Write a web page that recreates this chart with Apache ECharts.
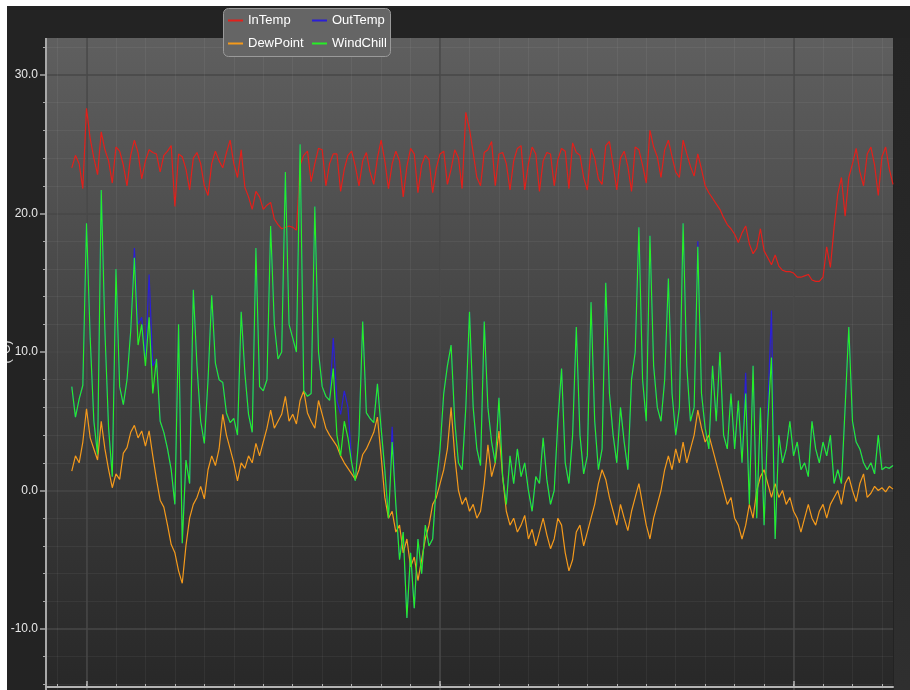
<!DOCTYPE html>
<html>
<head>
<meta charset="utf-8">
<script src="https://cdn.jsdelivr.net/npm/echarts@6/dist/echarts.min.js"></script>
<style>
  html, body { margin: 0; padding: 0; background: #ffffff; }
  #chart { position: absolute; left: 7px; top: 6px; width: 903px; height: 684px; }
</style>
</head>
<body>
<div id="chart"></div>
<script>
// Station readings, one every 3 hours; the record begins a few samples after the axis start.
const sampleCount = 231;
const leadingSamples = 7;

const inTemp = [
  23.3, 24.2, 23.6, 21.8, 27.6, 25.4, 24.0, 22.8, 25.9, 24.6,
  23.8, 22.2, 24.8, 24.5, 23.5, 22.0, 24.2, 25.3, 24.4, 22.5,
  23.8, 24.6, 24.4, 24.3, 23.0, 24.2, 24.5, 24.9, 20.5, 24.3,
  24.1, 23.2, 21.7, 24.0, 24.4, 23.6, 22.0, 21.3, 23.6, 24.5,
  23.8, 23.3, 24.4, 25.3, 23.6, 22.6, 24.6, 21.9, 21.2, 20.3,
  21.6, 21.2, 20.3, 20.6, 20.8, 19.6, 19.2, 18.9, 19.0, 19.1,
  19.0, 18.8, 23.5, 24.2, 24.5, 22.3, 23.6, 24.7, 24.6, 22.0,
  23.6, 24.3, 24.3, 21.6, 23.2, 24.2, 24.5, 23.4, 22.0, 23.8,
  24.4, 23.0, 22.1, 24.0, 25.3, 23.8, 21.8, 23.6, 24.5, 23.8,
  21.2, 23.4, 24.7, 24.3, 21.5, 23.5, 24.2, 23.9, 21.5, 23.3,
  24.3, 24.5, 22.1, 23.2, 24.6, 24.0, 21.8, 27.3, 26.1, 24.4,
  22.6, 22.0, 24.4, 24.6, 25.2, 22.0, 24.3, 24.4, 23.6, 21.7,
  23.8, 24.7, 24.9, 21.7, 23.6, 24.8, 24.3, 21.6, 23.8, 24.4,
  24.3, 22.0, 23.9, 24.7, 24.5, 21.8, 25.1, 24.4, 24.2, 22.6,
  21.7, 24.7, 24.0, 22.5, 22.1, 24.9, 25.2, 23.5, 21.7, 24.0,
  24.5, 23.4, 21.6, 24.8, 24.6, 23.5, 22.2, 26.0, 24.8, 24.1,
  22.6, 24.6, 25.3, 24.1, 23.0, 22.6, 25.3, 24.3, 23.4, 22.7,
  24.3, 23.2, 22.0, 21.5, 21.1, 20.7, 20.3, 19.7, 19.2, 18.9,
  18.5, 17.9, 18.6, 19.1, 17.8, 17.1, 17.5, 18.9, 17.3, 16.8,
  16.3, 17.0, 16.2, 15.9, 15.8, 15.8, 15.7, 15.4, 15.4, 15.5,
  15.6, 15.2, 15.1, 15.1, 15.4, 17.6, 16.1, 19.0, 21.4, 22.6,
  19.8, 22.6, 23.6, 24.7, 23.0, 22.0, 24.3, 24.8, 23.5, 21.3,
  24.1, 24.8, 23.2, 22.1
];

const outTemp = [
  7.5, 5.3, 6.6, 7.6, 19.3, 11.0, 5.0, 2.6, 21.7, 11.5,
  4.5, 1.0, 16.0, 7.5, 6.2, 8.0, 11.5, 17.5, 12.0, 12.5,
  9.5, 15.6, 9.0, 9.5, 5.0, 4.2, 3.0, 1.5, -1.0, 12.0,
  -3.8, 2.2, 0.5, 14.5, 9.0, 5.0, 3.4, 8.0, 14.1, 9.2,
  8.0, 7.8, 5.6, 4.9, 5.2, 4.0, 12.9, 8.5, 5.5, 4.2,
  17.5, 7.5, 7.2, 8.0, 19.1, 12.0, 9.5, 10.0, 23.0, 12.0,
  11.0, 10.0, 25.0, 7.2, 6.8, 7.0, 20.5, 10.0, 7.5, 6.8,
  6.5, 11.0, 6.5, 5.5, 7.2, 6.0, 2.0, 0.7, 4.0, 12.2,
  5.6, 5.2, 4.9, 7.7, 4.5, 1.5, -2.0, 4.6, -1.0, -5.0,
  -3.0, -9.2, -4.5, -8.5, -3.5, -6.0, -2.5, -4.0, -3.5, 0.5,
  3.0, 7.0, 9.0, 10.5, 5.0, 2.0, 1.5, 6.0, 12.9, 6.0,
  3.0, 1.8, 12.2, 6.0, 3.5, 2.0, 6.7, 1.0, -1.0, 2.5,
  0.5, 3.0, 1.0, 2.0, 0.0, -1.5, 1.0, 0.5, 3.8, 0.8,
  -1.0, 0.0, 5.0, 8.8, 2.0, 0.5, 4.0, 11.8, 4.0, 1.2,
  2.5, 13.6, 5.0, 1.5, 3.0, 15.0, 7.0, 4.0, 2.0, 6.0,
  3.5, 1.5, 8.0, 10.0, 19.0, 8.0, 5.0, 18.4, 9.0, 6.0,
  5.0, 8.0, 15.3, 7.0, 4.0, 6.0, 19.3, 9.0, 5.0, 6.0,
  18.0, 7.0, 4.5, 3.0, 9.0, 5.0, 10.0, 4.0, 3.0, 7.0,
  3.0, 6.5, 2.0, 8.5, -1.0, 9.0, -2.0, 6.0, -2.5, 6.0,
  13.0, -3.5, 4.0, 2.0, 3.0, 5.0, 2.5, 3.5, 1.5, 2.0,
  1.0, 5.0, 3.0, 2.0, 3.5, 2.5, 4.0, 0.5, 1.5, 0.5,
  6.0, 11.8, 5.0, 3.5, 3.0, 2.0, 1.5, 2.0, 1.2, 4.0,
  1.5, 1.7, 1.6, 1.8
];

const dewPoint = [
  1.4, 2.5, 2.0, 3.5, 5.9, 3.8, 3.0, 2.2, 5.0, 3.0,
  1.5, 0.2, 1.2, 0.8, 2.7, 3.1, 4.2, 4.7, 3.8, 4.3,
  3.2, 4.3, 2.5, 0.8, -0.7, -1.2, -2.5, -3.9, -4.5, -5.8,
  -6.7, -4.0, -2.0, -1.0, -0.5, 0.3, -0.6, 1.5, 2.5, 1.8,
  3.0, 5.5, 4.0, 3.0, 2.0, 0.7, 2.0, 1.6, 2.5, 2.0,
  3.4, 2.5, 3.5, 4.5, 5.8, 4.5, 5.0, 5.5, 6.8, 5.0,
  5.5, 4.8, 6.5, 7.2, 5.6, 5.0, 4.5, 6.5, 5.5, 4.5,
  4.0, 3.6, 3.2, 2.5, 2.0, 1.6, 1.2, 0.8, 1.5, 2.6,
  3.0, 3.6, 4.2, 5.3, 2.5, -0.5, -2.0, -1.5, -3.0, -2.5,
  -4.5, -3.5, -5.5, -4.8, -6.5, -5.0, -3.5, -2.5, -1.0, -0.5,
  0.5, 1.5, 3.0, 6.0, 2.5, 0.0, -1.0, -0.5, -1.5, -1.0,
  -2.0, -1.5, 0.5, 3.3, 1.0, 2.0, 4.3, 1.0, -1.5, -2.5,
  -2.0, -3.0, -2.5, -1.8, -3.5, -2.8, -4.0, -3.0, -2.0, -3.2,
  -4.2, -3.5, -2.0, -2.5, -4.5, -5.8, -5.0, -3.0, -2.5, -4.0,
  -3.0, -2.0, -1.0, 0.5, 1.5, 0.8, -0.5, -1.5, -2.5, -1.0,
  -2.0, -2.9, -1.5, -0.5, 0.5, -1.0, -2.5, -3.5, -2.0, -1.0,
  0.0, 1.5, 2.5, 1.5, 3.0, 2.0, 3.5, 2.0, 3.0, 4.0,
  5.8, 4.5, 3.5, 4.0, 3.0, 2.0, 1.0, 0.0, -1.0, -0.5,
  -2.0, -2.5, -3.5, -2.5, -1.0, -2.0, 0.0, 1.0, 1.5, 0.5,
  -0.5, 0.5, -0.5, 0.0, -1.0, -0.5, -1.5, -2.0, -3.0, -2.0,
  -1.0, -2.0, -2.5, -1.5, -1.0, -2.0, -1.0, -0.5, 0.0, -1.0,
  0.5, 1.0, 0.0, -0.8, 0.5, 1.2, -0.5, -0.2, 0.3, 0.0,
  0.2, -0.1, 0.3, 0.1
];

const windChill = [
  7.5, 5.3, 6.6, 7.6, 19.3, 11.0, 5.0, 2.6, 21.7, 11.5,
  4.5, 1.0, 16.0, 7.5, 6.2, 8.0, 11.5, 16.8, 10.5, 12.0,
  9.0, 12.5, 7.0, 9.5, 5.0, 4.2, 3.0, 1.5, -1.0, 12.0,
  -3.8, 2.2, 0.5, 14.5, 9.0, 5.0, 3.4, 8.0, 14.1, 9.2,
  8.0, 7.8, 5.6, 4.9, 5.2, 4.0, 12.9, 8.5, 5.5, 4.2,
  17.5, 7.5, 7.2, 8.0, 19.1, 12.0, 9.5, 10.0, 23.0, 12.0,
  11.0, 10.0, 25.0, 7.2, 6.8, 7.0, 20.5, 10.0, 7.5, 6.8,
  6.5, 8.8, 4.0, 2.5, 5.0, 3.8, 2.0, 0.7, 4.0, 12.2,
  5.6, 5.2, 4.9, 7.7, 4.5, 1.5, -2.0, 3.5, -1.0, -5.0,
  -3.0, -9.2, -4.5, -8.5, -3.5, -6.0, -2.5, -4.0, -3.5, 0.5,
  3.0, 7.0, 9.0, 10.5, 5.0, 2.0, 1.5, 6.0, 12.9, 6.0,
  3.0, 1.8, 12.2, 6.0, 3.5, 2.0, 6.7, 1.0, -1.0, 2.5,
  0.5, 3.0, 1.0, 2.0, 0.0, -1.5, 1.0, 0.5, 3.8, 0.8,
  -1.0, 0.0, 5.0, 8.8, 2.0, 0.5, 4.0, 11.8, 4.0, 1.2,
  2.5, 13.6, 5.0, 1.5, 3.0, 15.0, 7.0, 4.0, 2.0, 6.0,
  3.5, 1.5, 8.0, 10.0, 19.0, 8.0, 5.0, 18.4, 9.0, 6.0,
  5.0, 8.0, 15.3, 7.0, 4.0, 6.0, 19.3, 9.0, 5.0, 6.0,
  17.6, 7.0, 4.5, 3.0, 9.0, 5.0, 10.0, 4.0, 3.0, 7.0,
  3.0, 6.5, 2.0, 7.0, -1.0, 9.0, -2.0, 6.0, -2.5, 5.0,
  9.6, -3.5, 4.0, 2.0, 3.0, 5.0, 2.5, 3.5, 1.5, 2.0,
  1.0, 5.0, 3.0, 2.0, 3.5, 2.5, 4.0, 0.5, 1.5, 0.5,
  6.0, 11.8, 5.0, 3.5, 3.0, 2.0, 1.5, 2.0, 1.2, 4.0,
  1.5, 1.7, 1.6, 1.8
];

const seriesNames = ['InTemp', 'OutTemp', 'DewPoint', 'WindChill'];
const seriesColors = ['#e3201b', '#2b1fd6', '#f59a1b', '#27ee27'];
const yTickLabels = [-10, 0, 10, 20, 30];

// Time labels for the category axis (3-hour steps).
const categories = [];
for (let k = 0; k < sampleCount; k++) {
  const h = k * 3;
  categories.push('Day ' + (Math.floor(h / 24) + 1) + ' ' + String(h % 24).padStart(2, '0') + ':00');
}

function padded(values) {
  return new Array(leadingSamples).fill(null).concat(values);
}

// Ticks: a minor one every day (8 samples), a major one every 12 days.
const isMinor = (idx) => (idx - 3) % 8 === 0;
const isMajor = (idx) => (idx - 11) % 96 === 0;

const plotGradient = new echarts.graphic.LinearGradient(0, 0, 0, 1, [
  { offset: 0, color: '#5f5f5f' },
  { offset: 0.5, color: '#414141' },
  { offset: 1, color: '#282828' }
]);
const stripGradient = new echarts.graphic.LinearGradient(0, 0, 0, 1, [
  { offset: 0, color: '#242424' },
  { offset: 1, color: '#2f2f2f' }
]);

const font = 'Liberation Sans, Arial, sans-serif';

function lineSeries(name, values, color) {
  return {
    name: name,
    type: 'line',
    data: padded(values),
    showSymbol: false,
    symbol: 'none',
    connectNulls: false,
    lineStyle: { width: 1.2, color: color },
    itemStyle: { color: color },
    emphasis: { disabled: true },
    animation: false
  };
}

function legendColumn(names, left) {
  return {
    data: names,
    left: left,
    top: 7,
    orient: 'vertical',
    itemGap: 8,
    itemWidth: 15,
    itemHeight: 2,
    icon: 'rect',
    padding: 0,
    selectedMode: false,
    textStyle: { color: '#ffffff', fontSize: 13, fontFamily: font, lineHeight: 15 },
    z: 100
  };
}

const chart = echarts.init(document.getElementById('chart'), null, { renderer: 'canvas' });

chart.setOption({
  backgroundColor: '#232323',
  animation: false,
  grid: { left: 39, right: 17, top: -69.5, bottom: -77.5, containLabel: false, outerBoundsMode: 'none' },
  legend: [
    legendColumn([seriesNames[0], seriesNames[2]], 221),
    legendColumn([seriesNames[1], seriesNames[3]], 305)
  ],
  xAxis: [
    {
      type: 'category',
      data: categories,
      boundaryGap: false,
      position: 'bottom',
      offset: -80.5,
      axisLine: { show: true, onZero: false, lineStyle: { color: '#b4b4b4', width: 2 } },
      axisTick: { show: true, inside: true, length: 3, interval: isMinor, lineStyle: { color: '#b4b4b4' } },
      axisLabel: { show: false },
      splitLine: { show: true, interval: isMinor, lineStyle: { color: 'rgba(255,255,255,0.05)', width: 1 } }
    },
    {
      type: 'category',
      data: categories,
      boundaryGap: false,
      position: 'bottom',
      offset: -80.5,
      axisLine: { show: false, onZero: false },
      axisTick: { show: true, inside: true, length: 6, interval: isMajor, lineStyle: { color: '#b4b4b4', width: 1.5 } },
      axisLabel: { show: false },
      splitLine: { show: true, interval: isMajor, lineStyle: { color: '#474747', width: 1.5 } }
    }
  ],
  yAxis: {
    type: 'value',
    min: -20,
    max: 40,
    interval: 10,
    name: '(°C)',
    nameLocation: 'middle',
    nameRotate: 90,
    nameGap: 33,
    nameMoveOverlap: false,
    nameTextStyle: { color: '#dddddd', fontSize: 13, fontFamily: font },
    axisLine: { show: true, lineStyle: { color: '#a8a8a8', width: 2 } },
    axisTick: { show: true, length: 6, lineStyle: { color: '#a8a8a8', width: 1.5 } },
    minorTick: { show: true, splitNumber: 5, length: 3, lineStyle: { color: '#a8a8a8' } },
    axisLabel: {
      color: '#e8e8e8',
      fontSize: 12,
      fontFamily: font,
      margin: 8,
      formatter: (v) => (yTickLabels.indexOf(v) >= 0 ? v.toFixed(1) : '')
    },
    splitLine: { show: true, lineStyle: { color: '#474747', width: 1.5 } },
    minorSplitLine: { show: true, lineStyle: { color: 'rgba(255,255,255,0.05)', width: 1 } }
  },
  graphic: [
    {
      type: 'rect', silent: true, z: -10,
      shape: { x: 39, y: 32, width: 847, height: 649 },
      style: { fill: plotGradient }
    },
    {
      type: 'rect', silent: true, z: 50,
      shape: { x: 0, y: 0, width: 903, height: 32 },
      style: { fill: '#232323' }
    },
    {
      type: 'rect', silent: true, z: 50,
      shape: { x: 887, y: 32, width: 16, height: 652 },
      style: { fill: stripGradient }
    },
    {
      type: 'rect', silent: true, z: 99,
      shape: { x: 216.5, y: 2.5, width: 167, height: 48, r: 5 },
      style: { fill: '#656565', stroke: '#9a9a9a', lineWidth: 1 }
    }
  ],
  series: seriesNames.map((name, k) =>
    lineSeries(name, [inTemp, outTemp, dewPoint, windChill][k], seriesColors[k]))
});
</script>
</body>
</html>
